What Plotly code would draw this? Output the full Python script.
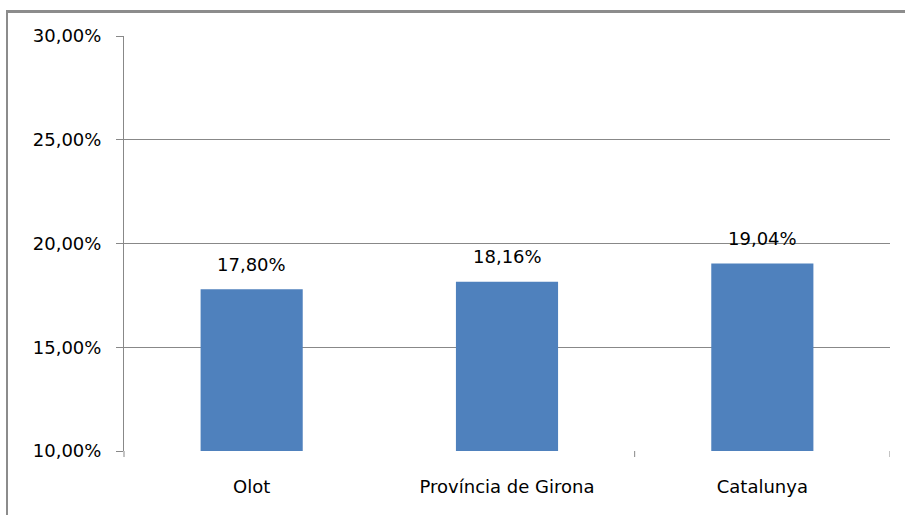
import plotly.graph_objects as go

categories = ["Olot", "Província de Girona", "Catalunya"]
values = [0.1780, 0.1816, 0.1904]
y_ticks = [0.10, 0.15, 0.20, 0.25, 0.30]

W, H = 905, 515
L, R, T, B = 124, 15, 36, 64
pw, ph = W - L - R, H - T - B

fig = go.Figure(go.Bar(x=categories, y=values, marker=dict(color="#4F81BD", line=dict(width=0)),
                       width=0.4, hoverinfo="skip"))

for c, v in zip(categories, values):
    fig.add_annotation(x=c, y=v, text=f"{v*100:.2f}%".replace(".", ","), showarrow=False,
                       yshift=25, font=dict(family="DejaVu Sans", size=18, color="#000000"))

gray = "#888888"
def px_x(p):
    return (p - L) / pw
def px_y(p):
    return (H - B - p) / ph

# outer chart frame (top and left edges)
fig.add_shape(type="line", xref="paper", yref="paper", x0=px_x(6), x1=px_x(920), y0=px_y(11.5), y1=px_y(11.5),
              line=dict(color="#8c8c8c", width=3))
fig.add_shape(type="line", xref="paper", yref="paper", x0=px_x(7), x1=px_x(7), y0=px_y(10), y1=px_y(530),
              line=dict(color="#8c8c8c", width=2))

# category boundary tick marks (only after 2nd and 3rd categories, as in the original)
n = len(categories)
for i in range(1, n):
    b = i + 0.5
    fig.add_shape(type="line", xref="x", yref="paper", x0=b, x1=b, y0=0, y1=-6 / ph,
                  line=dict(color=gray, width=1))
# value axis extends a little below the plot
fig.add_shape(type="line", xref="paper", yref="paper", x0=0, x1=0, y0=0, y1=-6 / ph,
              line=dict(color=gray, width=1))

fig.update_layout(
    width=W, height=H, margin=dict(l=L, r=R, t=T, b=B),
    paper_bgcolor="white", plot_bgcolor="white", separators=",.",
    showlegend=False, font=dict(family="DejaVu Sans", size=18, color="#000000"),
    bargap=0.6, hovermode=False,
)
fig.update_yaxes(range=[0.10, 0.30], tickvals=y_ticks, tickformat=".2%", showgrid=True, gridcolor=gray,
                 gridwidth=1, showline=True, linecolor=gray, linewidth=1, ticks="outside", ticklen=7,
                 tickcolor=gray, ticklabelstandoff=11, zeroline=False)
fig.update_xaxes(showline=False, ticks="", showgrid=False, ticklabelstandoff=23,
                 range=[-0.5, n - 0.5])

fig.write_html("out.html", config={"displayModeBar": False},
               post_script="document.body.style.margin='0';document.body.style.overflow='hidden';")
